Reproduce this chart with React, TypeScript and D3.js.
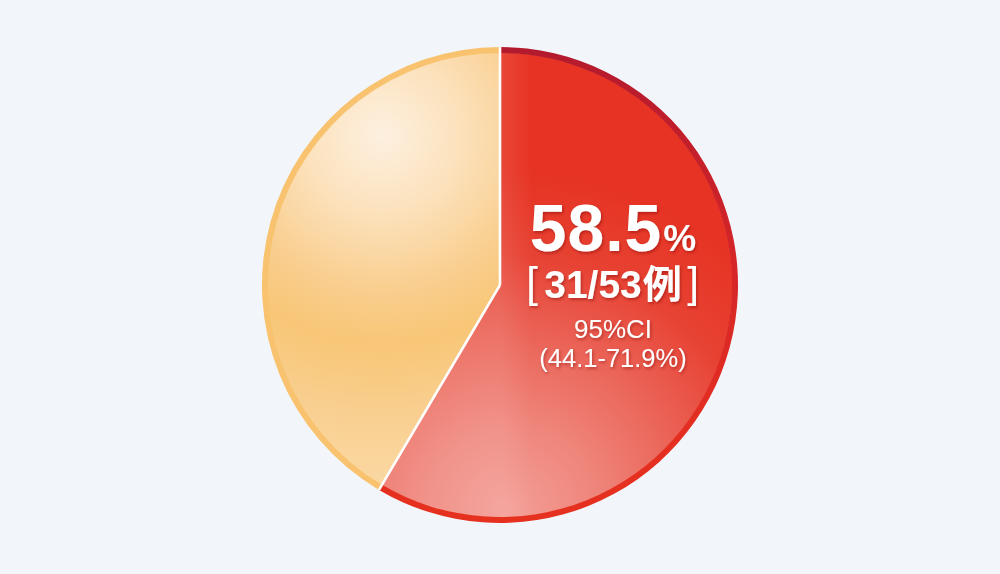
import React from "react";
import * as d3 from "d3";

const categories = ["有効", "その他"];
const counts = [31, 22];
const percentLabel = "58.5";
const casesLabel = "31/53";
const casesUnit = "例";
const ciTitle = "95%CI";
const ciRange = "(44.1-71.9%)";

const W = 1000;
const H = 574;
const cx = 500;
const cy = 285;
const R = 238;
const BORDER = 6;

export default function App() {
  const pie = d3.pie<number>().sort(null).value((d) => d);
  const arcs = pie(counts);
  const fillArc = d3.arc<d3.PieArcDatum<number>>().innerRadius(0).outerRadius(R - BORDER + 0.5);
  const rimArc = d3.arc<d3.PieArcDatum<number>>().innerRadius(R - BORDER).outerRadius(R);
  const fills = ["url(#redFill)", "url(#orangeFill)"];
  const rims = ["url(#redRim)", "#f8c26e"];

  const seps = arcs.map((a) => {
    const ang = a.startAngle;
    return { x: R * Math.sin(ang), y: -R * Math.cos(ang) };
  });

  const font = "'Liberation Sans', Arial, 'Noto Sans CJK JP', sans-serif";
  const tx = 613;

  return (
    <div style={{ position: "fixed", left: 0, top: 0 }}>
      <svg width={W} height={H} style={{ display: "block" }}>
        <defs>
          <radialGradient id="redFill" gradientUnits="userSpaceOnUse" cx={10} cy={225} r={340}>
            <stop offset="0" stopColor="#f39e96" />
            <stop offset="0.25" stopColor="#ef867c" />
            <stop offset="0.5" stopColor="#eb6559" />
            <stop offset="0.75" stopColor="#e74233" />
            <stop offset="1" stopColor="#e63323" />
          </radialGradient>
          <linearGradient id="redSheen" gradientUnits="userSpaceOnUse" x1={0} y1={0} x2={32} y2={0}>
            <stop offset="0" stopColor="#ffffff" stopOpacity="0.1" />
            <stop offset="1" stopColor="#ffffff" stopOpacity="0" />
          </linearGradient>
          <linearGradient id="redRim" gradientUnits="userSpaceOnUse" x1={0} y1={-R} x2={0} y2={R}>
            <stop offset="0" stopColor="#b31a2e" />
            <stop offset="0.45" stopColor="#d52528" />
            <stop offset="0.8" stopColor="#e42e21" />
            <stop offset="1" stopColor="#e6311f" />
          </linearGradient>
          <radialGradient id="orangeFill" gradientUnits="userSpaceOnUse" cx={-118} cy={-150} r={380}>
            <stop offset="0" stopColor="#fdf0e0" />
            <stop offset="0.2" stopColor="#fce2bd" />
            <stop offset="0.42" stopColor="#f9cd8c" />
            <stop offset="0.55" stopColor="#f8c676" />
            <stop offset="0.75" stopColor="#f9d092" />
            <stop offset="1" stopColor="#fbdcaa" />
          </radialGradient>
          <filter id="txtShadow" x="-20%" y="-30%" width="140%" height="160%">
            <feDropShadow dx="1.2" dy="1.8" stdDeviation="1.4" floodColor="#7a0d0d" floodOpacity="0.45" />
          </filter>
        </defs>
        <rect x={0} y={0} width={W} height={H} fill="#f2f6fa" />
        <g transform={`translate(${cx},${cy})`}>
          {arcs.map((a, i) => (
            <path key={"f" + i} d={fillArc(a) || ""} fill={fills[i]} />
          ))}
          <path d={fillArc(arcs[0]) || ""} fill="url(#redSheen)" />
          {arcs.map((a, i) => (
            <path key={"r" + i} d={rimArc(a) || ""} fill={rims[i]} />
          ))}
          {seps.map((s, i) => (
            <line key={"s" + i} x1={0} y1={0} x2={s.x} y2={s.y} stroke="#ffffff" strokeWidth={2.6} />
          ))}
        </g>
        <g fill="#ffffff" fontFamily={font} filter="url(#txtShadow)">
          <text x={tx} y={251} fontWeight="bold" textAnchor="middle">
            <tspan fontSize={66} letterSpacing={1}>{percentLabel}</tspan>
            <tspan fontSize={37} dx={1}>%</tspan>
          </text>
          <text x={532} y={297} fontSize={42} textAnchor="middle" fontWeight="normal">[</text>
          <text x={tx} y={298} fontSize={39} textAnchor="middle">
            <tspan fontWeight="bold">{casesLabel}</tspan>
            <tspan fontWeight="bold" fontFamily="'Noto Sans CJK JP'" dx={1}>{casesUnit}</tspan>
          </text>
          <text x={693} y={297} fontSize={42} textAnchor="middle" fontWeight="normal">]</text>
          <text x={tx} y={338} fontSize={26} textAnchor="middle">{ciTitle}</text>
          <text x={tx} y={367} fontSize={25.5} textAnchor="middle">{ciRange}</text>
        </g>
      </svg>
    </div>
  );
}
